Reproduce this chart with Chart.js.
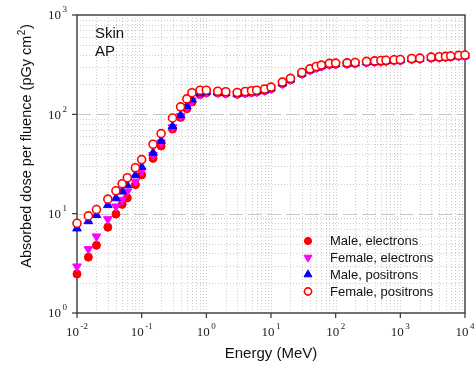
<!DOCTYPE html>
<html><head><meta charset="utf-8">
<script src="https://cdn.jsdelivr.net/npm/chart.js@4.4.1/dist/chart.umd.min.js"></script>
<style>html,body{margin:0;padding:0;background:#fff}#wrap{width:474px;height:365px;position:relative}</style>
</head><body><div id="wrap"><canvas id="c" width="474" height="365"></canvas></div>
<script>
const energies = [0.01,0.015,0.02,0.03,0.04,0.05,0.06,0.08,0.1,0.15,0.2,0.3,0.4,0.5,0.6,0.8,1,1.5,2,3,4,5,6,8,10,15,20,30,40,50,60,80,100,150,200,300,400,500,600,800,1000,1500,2000,3000,4000,5000,6000,8000,10000];
const maleElectrons = [2.47,3.65,4.8,7.3,9.9,12.4,14.4,19.6,24.5,36,48,71,93,114,133,158,165,164,162,159,163,166,168,173,181,203,222,255,278,294,304,317,319,322,325,333,337,340,343,348,349,358,361,370,373,376,379,385,388];
const femaleElectrons = [2.94,4.4,5.9,8.8,11.8,13.8,16.7,21,27,39,52,74,96,118,138,160,166,165,163,160,164,167,169,174,182,204,223,256,279,295,305,318,320,323,326,334,338,341,344,349,350,359,362,371,374,377,380,386,389];
const malePositrons = [7.1,8.4,9.7,12.2,14.3,16.7,19.3,24.4,29.5,41,54,76,98,121,141,163,168,166,164,161,165,168,170,175,183,205,224,257,280,296,306,319,321,324,327,335,339,342,345,350,351,360,363,372,375,378,381,387,390];
const femalePositrons = [8.0,9.5,11,14,17,20,23,29,35,50,64,92,119,143,165,175,175,171,169,166,170,173,175,180,188,211,230,264,287,303,313,326,328,330,333,341,345,348,350,355,356,365,368,377,380,383,386,392,395];
const seriesLabels = ['Male, electrons','Female, electrons','Male, positrons','Female, positrons'];
const xTickExps = [-2,-1,0,1,2,3,4];
const yTickExps = [0,1,2,3];
const annotationLines = ['Skin','AP'];
const xTitle = 'Energy (MeV)';
const yTitleParts = ['Absorbed dose per fluence (pGy cm', '2', ')'];

const toPts = arr => arr.map((v,i)=>({x:energies[i], y:v}));

const styles = [
  {pointStyle:'circle', radius:4, bg:'#ff0000', border:'#ff0000', bw:1, rot:0},
  {pointStyle:'triangle', radius:5, bg:'#ff00ff', border:'#ff00ff', bw:1, rot:180},
  {pointStyle:'triangle', radius:5, bg:'#0000ff', border:'#0000ff', bw:1, rot:0},
  {pointStyle:'circle', radius:4, bg:'#ffffff', border:'#ff0000', bw:1.6, rot:0}
];
const seriesData = [maleElectrons, femaleElectrons, malePositrons, femalePositrons];
const orders = [3,2,1,0];

const datasets = seriesData.map((d,i)=>({
  label: seriesLabels[i],
  data: toPts(d),
  showLine:false,
  pointStyle: styles[i].pointStyle,
  pointRadius: styles[i].radius,
  pointRotation: styles[i].rot,
  pointBackgroundColor: styles[i].bg,
  pointBorderColor: styles[i].border,
  pointBorderWidth: styles[i].bw,
  order: orders[i],
  clip: false
}));

function drawPow(ctx, exp, x, y, align){
  const base='10', ex=String(exp);
  ctx.font='13px "Liberation Serif", "Times New Roman", serif';
  const wb=ctx.measureText(base).width;
  ctx.font='9px "Liberation Serif", "Times New Roman", serif';
  const we=ctx.measureText(ex).width;
  const gap=1.5;
  const total=wb+gap+we;
  let sx = align==='center' ? x-total/2 : x-total;
  ctx.fillStyle='#222';
  ctx.textAlign='left';
  ctx.textBaseline='middle';
  ctx.font='13px "Liberation Serif", "Times New Roman", serif';
  ctx.fillText(base, sx, y);
  ctx.font='9px "Liberation Serif", "Times New Roman", serif';
  ctx.fillText(ex, sx+wb+gap, y-6);
}

const framePlugin = {
  id:'framePlugin',
  beforeDatasetsDraw(chart){
    const {ctx, chartArea:a, scales:{x, y}} = chart;
    ctx.save();
    ctx.lineWidth=1;
    for(let e=-2;e<4;e++){
      for(let m=1;m<=9;m++){
        const v=m*Math.pow(10,e);
        if(m===1 && e===-2) continue;
        const px=Math.round(x.getPixelForValue(v))+0.5;
        ctx.strokeStyle = '#cccccc';
        ctx.setLineDash([1,2]);
        ctx.beginPath(); ctx.moveTo(px,a.top); ctx.lineTo(px,a.bottom); ctx.stroke();
      }
    }
    for(let e=0;e<3;e++){
      for(let m=1;m<=9;m++){
        const v=m*Math.pow(10,e);
        if(m===1 && e===0) continue;
        const py=Math.round(y.getPixelForValue(v))+0.5;
        if(m===1){ ctx.strokeStyle='#c8c8c8'; ctx.setLineDash([14,5]); ctx.lineWidth=1.2; }
        else { ctx.strokeStyle='#cccccc'; ctx.setLineDash([1,2]); ctx.lineWidth=1; }
        ctx.beginPath(); ctx.moveTo(a.left,py); ctx.lineTo(a.right,py); ctx.stroke();
      }
    }
    ctx.setLineDash([]);
    ctx.strokeStyle='#444'; ctx.lineWidth=1.5;
    ctx.strokeRect(a.left, a.top, a.right-a.left, a.bottom-a.top);
    ctx.lineWidth=1.2; ctx.strokeStyle='#333';
    xTickExps.forEach(e=>{
      const px=x.getPixelForValue(Math.pow(10,e));
      ctx.beginPath(); ctx.moveTo(px,a.bottom); ctx.lineTo(px,a.bottom+5); ctx.stroke();
      drawPow(ctx, e, px, a.bottom+20, 'center');
    });
    yTickExps.forEach(e=>{
      const py=y.getPixelForValue(Math.pow(10,e));
      ctx.beginPath(); ctx.moveTo(a.left,py); ctx.lineTo(a.left-5,py); ctx.stroke();
      drawPow(ctx, e, a.left-10, py+1, 'right');
    });
    ctx.fillStyle='#111';
    ctx.font='15px "Liberation Sans", Arial, sans-serif';
    ctx.textAlign='center'; ctx.textBaseline='middle';
    ctx.fillText(xTitle, (a.left+a.right)/2, 354);
    // rotated y title with superscript
    ctx.save();
    ctx.translate(27, 146);
    ctx.rotate(-Math.PI/2);
    const fMain='14.5px "Liberation Sans", Arial, sans-serif', fSup='10px "Liberation Sans", Arial, sans-serif';
    ctx.font=fMain; const w0=ctx.measureText(yTitleParts[0]).width, w2=ctx.measureText(yTitleParts[2]).width;
    ctx.font=fSup; const w1=ctx.measureText(yTitleParts[1]).width;
    const tot=w0+w1+1+w2;
    let sx=-tot/2;
    ctx.textAlign='left';
    ctx.font=fMain; ctx.fillText(yTitleParts[0], sx, 0); sx+=w0+0.5;
    ctx.font=fSup; ctx.fillText(yTitleParts[1], sx, -5); sx+=w1+0.5;
    ctx.font=fMain; ctx.fillText(yTitleParts[2], sx, 0);
    ctx.restore();
    ctx.restore();
  },
  afterDatasetsDraw(chart){
    const {ctx} = chart;
    ctx.save();
    ctx.fillStyle='#111';
    ctx.font='15px "Liberation Sans", Arial, sans-serif';
    ctx.textAlign='left'; ctx.textBaseline='middle';
    annotationLines.forEach((t,i)=>ctx.fillText(t, 95, 34+i*18));
    const lx=308, tx=330, rows=[241,257.5,274.5,291.5];
    seriesLabels.forEach((lab,i)=>{
      const s=styles[i], cy=rows[i];
      ctx.fillStyle=s.bg; ctx.strokeStyle=s.border; ctx.lineWidth=s.bw;
      ctx.beginPath();
      if(s.pointStyle==='circle'){
        ctx.arc(lx,cy,3.6,0,Math.PI*2);
      } else {
        const r=4.6;
        for(let k=0;k<3;k++){
          const ang = (k*2*Math.PI/3) + (s.rot===180?Math.PI:0);
          const px = lx + Math.sin(ang)*r, py = cy - Math.cos(ang)*r;
          k===0?ctx.moveTo(px,py):ctx.lineTo(px,py);
        }
        ctx.closePath();
      }
      ctx.fill(); ctx.stroke();
      ctx.fillStyle='#111';
      ctx.font='13px "Liberation Sans", Arial, sans-serif';
      ctx.fillText(lab, tx, cy+0.5);
    });
    ctx.restore();
  }
};

new Chart(document.getElementById('c'), {
  type:'scatter',
  data:{datasets},
  options:{
    responsive:false,
    animation:false,
    devicePixelRatio:1,
    layout:{padding:{left:77, top:15, right:9, bottom:52}},
    plugins:{legend:{display:false}, tooltip:{enabled:false}},
    scales:{
      x:{type:'logarithmic', min:0.01, max:10000, display:false},
      y:{type:'logarithmic', min:1, max:1000, display:false}
    }
  },
  plugins:[framePlugin]
});
</script>
</body></html>
